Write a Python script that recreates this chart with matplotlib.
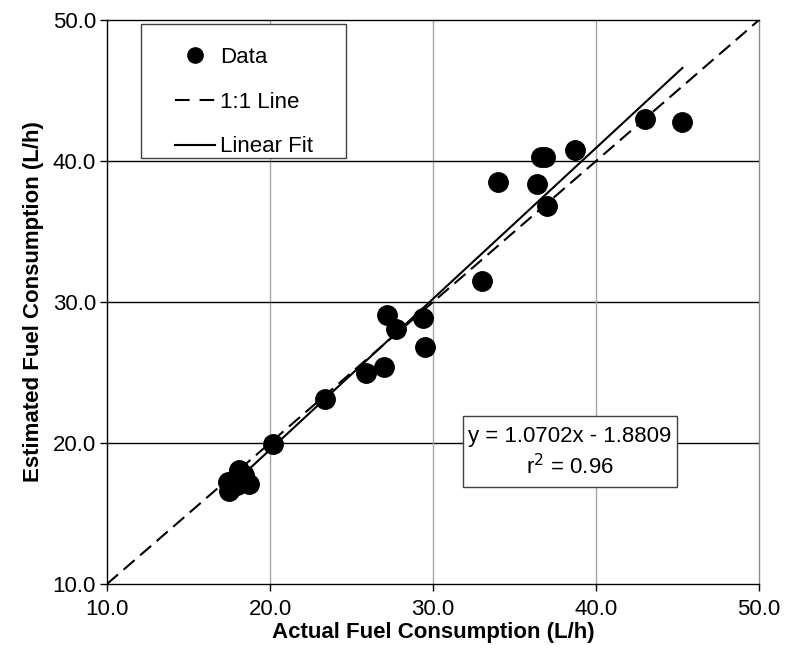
import numpy as np
import matplotlib
matplotlib.use("Agg")
import matplotlib.pyplot as plt
from matplotlib.patches import Rectangle
from matplotlib.lines import Line2D

plt.rcParams['font.family'] = ['Liberation Sans', 'DejaVu Sans']

# values
actual = [17.4, 17.5, 18.0, 18.1, 18.4, 18.7, 18.0, 20.2, 23.4, 25.9, 27.0, 27.2,
          27.7, 29.4, 29.5, 33.0, 34.0, 36.4, 36.6, 36.9, 37.0, 38.7, 43.0, 45.3]
estimated = [17.2, 16.6, 17.0, 18.1, 17.7, 17.1, 17.6, 19.9, 23.1, 25.0, 25.4, 29.1,
             28.1, 28.9, 26.8, 31.5, 38.5, 38.4, 40.3, 40.3, 36.8, 40.8, 43.0, 42.8]
slope = 1.0702
intercept = -1.8809
r2 = 0.96
ticks = [10, 20, 30, 40, 50]

fs = 16

fig = plt.figure(figsize=(7.85, 6.52), dpi=100)
ax = fig.add_axes([0.1363, 0.1043, 0.8306, 0.8650])

ax.set_xlim(10, 50)
ax.set_ylim(10, 50)
ax.set_xticks(ticks)
ax.set_yticks(ticks)
ax.set_xticklabels(["%.1f" % t for t in ticks], fontsize=fs)
ax.set_yticklabels(["%.1f" % t for t in ticks], fontsize=fs)
ax.tick_params(direction='out', length=5, width=1, color='black')
ax.tick_params(axis='x', pad=6)
ax.tick_params(axis='y', pad=3)

# grid: vertical grey, horizontal black
for t in ticks[1:-1]:
    ax.axvline(t, color='#a6a6a6', lw=1, zorder=0)
    ax.axhline(t, color='black', lw=1, zorder=0)
ax.spines['top'].set_color('black')
ax.spines['right'].set_color('#8c8c8c')
for s in ['left', 'bottom', 'top', 'right']:
    ax.spines[s].set_linewidth(1)

ax.plot([10, 50], [10, 50], color='black', lw=1.5, dashes=(7, 3.5), zorder=2)
xf = np.array([min(actual), max(actual)])
ax.plot(xf, slope * xf + intercept, color='black', lw=1.5, zorder=2)
ax.plot(actual, estimated, 'o', color='black', markersize=14, zorder=3)

ax.set_xlabel("Actual Fuel Consumption (L/h)", fontsize=fs, fontweight='bold', labelpad=1)
ax.set_ylabel("Estimated Fuel Consumption (L/h)", fontsize=fs, fontweight='bold', labelpad=6)

# legend box
ax.add_patch(Rectangle((0.052, 0.755), 0.314, 0.238, transform=ax.transAxes,
                       facecolor='white', edgecolor='#404040', lw=1, zorder=4))
handles = [Line2D([], [], ls='none', marker='o', color='black', markersize=11),
           Line2D([], [], color='black', lw=1.5, dashes=(7, 4.8)),
           Line2D([], [], color='black', lw=1.5)]
leg = ax.legend(handles, ["Data", "1:1 Line", "Linear Fit"], loc='upper left',
                bbox_to_anchor=(0.073, 0.988), frameon=False, fontsize=fs,
                handlelength=1.8, handletextpad=0.25, labelspacing=1.07)
leg.set_zorder(5)

# equation box
ax.add_patch(Rectangle((31.84, 16.9), 13.13, 5.0, facecolor='white',
                       edgecolor='#404040', lw=1, zorder=4))
ax.text(38.4, 19.35, "y = %.4fx - %.4f\nr$^2$ = %.2f" % (slope, -intercept, r2),
        ha='center', va='center', fontsize=fs, linespacing=1.35, zorder=5)

fig.savefig("out.png", dpi=100)
